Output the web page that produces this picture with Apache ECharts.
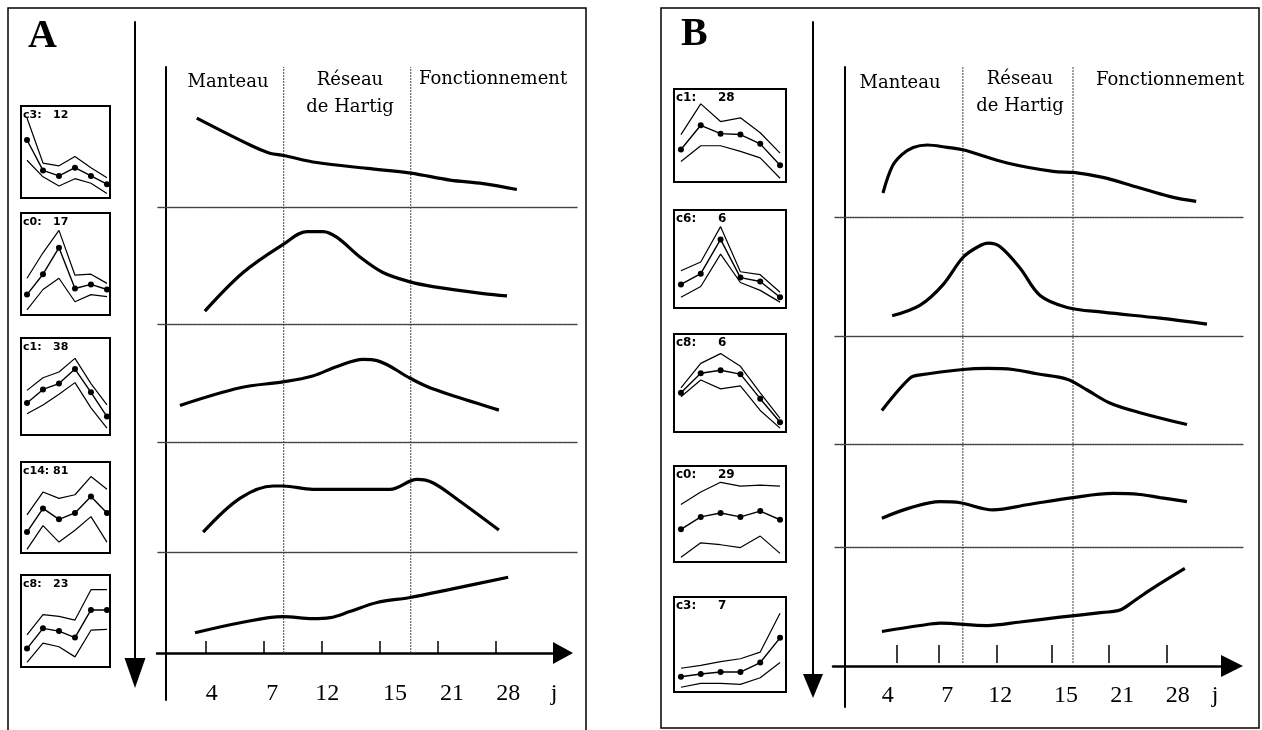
<!DOCTYPE html>
<html><head><meta charset="utf-8">
<script src="https://cdn.jsdelivr.net/npm/echarts@6/dist/echarts.min.js"></script>
<style>html,body{margin:0;padding:0;background:#fff}#c{width:1262px;height:730px}</style>
</head><body><div id="c"></div>
<script>
// ---------------- DATA ----------------
const dayLabels = ['4', '7', '12', '15', '21', '28'];
const unitLabel = 'j';
const phaseLine1 = ['Manteau', 'Réseau', 'Fonctionnement'];
const phaseLine2 = ['', 'de Hartig', ''];

// Panel A : axis positions (ordinal units along the time axis)
const tickPosA = [1, 2, 3, 4, 5, 6];
const labelPosA = [1.10, 2.14, 3.09, 4.26, 5.24, 6.21, 7.0];
const phaseBoundsA = [2.34, 4.53];
// Panel A : smoothed profiles (x = ordinal time, y = relative level 0-100 within its band)
const curveA1 = [[0.84,76],[1.76,53],[2.10,46],[2.34,44],[2.91,38],[3.78,33],[4.53,29],[5.21,23],[5.78,20],[6.36,15]];
const curveA2 = [[0.98,11],[1.64,44],[2.33,68],[2.74,79],[3.02,79],[3.26,74],[3.66,57],[4.05,44],[4.52,36],[4.91,32],[5.78,26],[6.19,24]];
const curveA3 = [[0.55,31],[1.59,46],[2.33,51],[2.84,56],[3.26,64],[3.71,70],[3.95,69],[4.52,54],[4.81,47],[5.21,40],[6.05,27]];
const curveA4 = [[0.95,18],[1.59,49],[2.16,60],[2.33,60],[2.84,57],[4.17,57],[4.64,66],[4.91,63],[5.33,48],[6.05,20]];
const curveA5 = [[0.81,20],[1.59,30],[2.33,36],[2.84,34],[3.14,35],[3.48,41],[3.95,50],[4.52,55],[5.21,63],[6.21,75]];
// Panel A : cluster thumbnails
const thumbNamesA = ['c3:', 'c0:', 'c1:', 'c14:', 'c8:'];
const thumbCountsA = ['12', '17', '38', '81', '23'];
const thumbUpperA = [[87,38,35,45,33,22],[36,61,83,39,40,31],[46,59,65,79,53,31],[42,67,60,64,84,70],[35,57,55,51,84,84]];
const thumbMeanA  = [[63,30,24,33,24,15],[20,40,66,26,30,25],[33,47,53,68,44,19],[23,49,37,44,62,44],[20,42,39,32,62,62]];
const thumbLowerA = [[41,23,13,21,16,5],[5,25,36,13,20,18],[22,31,42,54,28,7],[4,30,12,25,40,12],[5,26,22,11,40,41]];

// Panel B
const tickPosB = [1, 1.78, 2.85, 3.87, 4.93, 6.0];
const labelPosB = [0.83, 1.93, 2.91, 4.13, 5.17, 6.20, 6.89];
const phaseBoundsB = [2.22, 4.26];
const curveB1 = [[0.74,20],[0.91,42],[1.09,52],[1.30,58],[1.56,60],[1.93,58],[2.22,56],[3.04,45],[3.89,38],[4.30,37],[4.81,33],[5.44,25],[6.06,17],[6.54,13]];
const curveB2 = [[0.91,17],[1.43,26],[1.85,43],[2.22,66],[2.50,75],[2.69,78],[2.91,75],[3.28,57],[3.65,34],[4.15,24],[4.81,20],[5.87,15],[6.74,10]];
const curveB3 = [[0.72,31],[1.24,61],[1.43,64],[2.22,69],[2.67,70],[3.15,69],[3.59,65],[4.15,60],[4.52,50],[4.94,38],[5.50,29],[6.37,18]];
const curveB4 = [[0.72,28],[1.24,38],[1.80,44],[2.17,43],[2.78,36],[3.41,41],[4.26,48],[5.00,52],[5.50,51],[5.87,48],[6.37,44]];
const curveB5 = [[0.72,29],[1.43,34],[1.80,36],[2.67,34],[3.28,37],[4.02,41],[4.81,45],[5.13,47],[5.37,54],[5.69,64],[6.33,82]];
const thumbNamesB = ['c1:', 'c6:', 'c8:', 'c0:', 'c3:'];
const thumbCountsB = ['28', '6', '6', '29', '7'];
const thumbUpperB = [[51,84,65,69,53,31],[38,47,83,37,34,16],[45,70,80,67,40,14],[60,73,83,79,80,79],[25,28,32,35,42,83]];
const thumbMeanB  = [[35,61,52,51,41,18],[24,35,70,31,27,11],[40,60,63,59,34,10],[34,47,51,47,53,44],[16,19,21,21,31,57]];
const thumbLowerB = [[22,39,39,33,26,4],[11,22,55,26,18,6],[36,53,44,47,22,4],[5,20,18,15,27,9],[5,9,9,8,15,31]];

// ---------------- BUILD ----------------
const grids = [], xAxes = [], yAxes = [], series = [], graphics = [];
const BLACK = '#000';
const hidden = (min, max) => ({type: 'value', show: false, min: min, max: max});

function addGrid(g, xa, ya) {
  const gi = grids.length;
  grids.push(g);
  const xs = (Array.isArray(xa) ? xa : [xa]).map(a => { xAxes.push(Object.assign({gridIndex: gi}, a)); return xAxes.length - 1; });
  yAxes.push(Object.assign({gridIndex: gi}, ya));
  return {xi: xs[0], xis: xs, yi: yAxes.length - 1};
}
function text(str, x, y, font, align) {
  graphics.push({type: 'text', x: x, y: y, silent: true,
    style: {text: str, font: font, fill: BLACK, align: align || 'left', verticalAlign: 'middle',
            textAlign: align || 'left', textVerticalAlign: 'middle'}});
}
function labelFormatter(positions) {
  return function (v) {
    const i = positions.findIndex(p => Math.abs(p - v) < 1e-6);
    return i >= 0 && i < dayLabels.length ? dayLabels[i] : unitLabel;
  };
}

function buildPanel(P) {
  // frame grid with time axis
  let frame;
  if (!P.tickGap) {
    frame = addGrid({left: P.axisLeft, top: 67, width: P.axisWidth, height: P.axisY - 67},
      {type: 'value', min: P.xmin, max: P.xmax, position: 'bottom',
       axisLine: {show: true, onZero: false, lineStyle: {color: BLACK, width: 2.5}, symbol: ['none', 'triangle'], symbolSize: P.arrowSize},
       axisTick: {show: true, inside: true, length: P.tickLen, customValues: P.tickPos, lineStyle: {color: BLACK, width: 1.5}},
       axisLabel: {show: true, customValues: P.labelPos, margin: P.labelMargin, formatter: labelFormatter(P.labelPos),
                   fontFamily: 'Liberation Serif', fontSize: 24, color: BLACK},
       splitLine: {show: false}},
      hidden(0, 100));
  } else {
    frame = addGrid({left: P.axisLeft, top: 67, width: P.axisWidth, height: P.axisY - P.tickGap - 67},
      [{type: 'value', min: P.xmin, max: P.xmax, position: 'bottom',
        axisLine: {show: false, onZero: false},
        axisTick: {show: true, inside: true, length: P.tickLen, customValues: P.tickPos, lineStyle: {color: BLACK, width: 1.5}},
        axisLabel: {show: false}, splitLine: {show: false}},
       {type: 'value', min: P.xmin, max: P.xmax, position: 'bottom', offset: P.tickGap,
        axisLine: {show: true, onZero: false, lineStyle: {color: BLACK, width: 2.5}, symbol: ['none', 'triangle'], symbolSize: P.arrowSize},
        axisTick: {show: false},
        axisLabel: {show: true, customValues: P.labelPos, margin: P.labelMargin, formatter: labelFormatter(P.labelPos),
                    fontFamily: 'Liberation Serif', fontSize: 24, color: BLACK},
        splitLine: {show: false}}],
      hidden(0, 100));
  }
  P.phaseBounds.forEach(p => series.push({type: 'line', xAxisIndex: frame.xi, yAxisIndex: frame.yi,
    data: [[p, 0], [p, 100]], symbol: 'none', silent: true,
    lineStyle: {color: '#444', width: 1, type: [2, 1]}}));

  // main vertical axis line
  addGrid({left: P.vaxisX, top: 67, width: 10, height: P.vaxisBottom - 67},
    {type: 'value', show: false, min: 0, max: 1},
    {type: 'value', min: 0, max: 1, axisLine: {show: true, lineStyle: {color: BLACK, width: 2}},
     axisTick: {show: false}, axisLabel: {show: false}, splitLine: {show: false}});

  // big downward arrow (cluster order)
  addGrid({left: P.downX, top: 22, width: 10, height: P.downEnd - 22},
    {type: 'value', show: false, min: 0, max: 1},
    {type: 'value', min: 0, max: 1, axisLine: {show: true, lineStyle: {color: BLACK, width: 2}, symbol: ['triangle', 'none'], symbolSize: P.downArrowSize},
     axisTick: {show: false}, axisLabel: {show: false}, splitLine: {show: false}});

  // bands with profiles
  P.curves.forEach((c, i) => {
    const g = addGrid({left: P.bandLeft, top: P.bandTops[i], width: P.bandWidth, height: P.bandBottoms[i] - P.bandTops[i]},
      {type: 'value', min: P.bxmin, max: P.bxmax, position: 'top',
       axisLine: {show: i > 0, onZero: false, lineStyle: {color: '#444', width: 1.3, type: [1.5, 1]}},
       axisTick: {show: false}, axisLabel: {show: false}, splitLine: {show: false}},
      hidden(0, 100));
    series.push({type: 'line', xAxisIndex: g.xi, yAxisIndex: g.yi, data: c, smooth: 0.35,
      symbol: 'none', silent: true, lineStyle: {color: BLACK, width: 3.2}, z: 3});
  });

  // thumbnails
  P.thumbTops.forEach((t, i) => {
    const g = addGrid({left: P.thumbLeft, top: t, width: P.thumbWidth, height: P.thumbHeights[i], show: true,
                       borderColor: BLACK, borderWidth: 2, backgroundColor: 'transparent'},
      hidden(P.txmin, P.txmax), hidden(0, 100));
    const idx = [0, 1, 2, 3, 4, 5];
    const mk = arr => arr.map((v, k) => [idx[k], v]);
    series.push({type: 'line', xAxisIndex: g.xi, yAxisIndex: g.yi, data: mk(P.upper[i]), symbol: 'none', silent: true, lineStyle: {color: BLACK, width: 1.2}});
    series.push({type: 'line', xAxisIndex: g.xi, yAxisIndex: g.yi, data: mk(P.lower[i]), symbol: 'none', silent: true, lineStyle: {color: BLACK, width: 1.2}});
    series.push({type: 'line', xAxisIndex: g.xi, yAxisIndex: g.yi, data: mk(P.mean[i]), symbol: 'circle', symbolSize: 6, silent: true,
      itemStyle: {color: BLACK}, lineStyle: {color: BLACK, width: 1.4}});
    text(P.names[i], P.thumbLeft + 2, t + 9, 'bold ' + P.thumbFont + 'px "DejaVu Sans"');
    text(P.counts[i], P.thumbLeft + P.countDx, t + 9, 'bold ' + P.thumbFont + 'px "DejaVu Sans"');
  });

  // headers
  P.headers.forEach((h, i) => {
    text(phaseLine1[i], h[0], h[1], '18px "DejaVu Serif"', 'center');
    if (phaseLine2[i]) text(phaseLine2[i], h[0], h[1] + 27, '18px "DejaVu Serif"', 'center');
  });
}

buildPanel({
  axisLeft: 157, axisWidth: 406, axisY: 653, xmin: 0.155, xmax: 7.155, arrowSize: [22, 20],
  tickLen: 12, tickPos: tickPosA, labelPos: labelPosA, labelMargin: 29, phaseBounds: phaseBoundsA,
  vaxisX: 166, vaxisBottom: 700, downX: 135, downEnd: 673, downArrowSize: [21, 30],
  bandLeft: 158, bandWidth: 419, bxmin: 0.172, bxmax: 7.397,
  bandTops: [90, 207, 324, 442, 552], bandBottoms: [207, 324, 442, 552, 653],
  curves: [curveA1, curveA2, curveA3, curveA4, curveA5],
  thumbLeft: 21, thumbWidth: 89, thumbTops: [106, 213, 338, 462, 575], thumbHeights: [92, 102, 97, 91, 92],
  txmin: -0.375, txmax: 5.19, thumbFont: 11, countDx: 32,
  names: thumbNamesA, counts: thumbCountsA, upper: thumbUpperA, mean: thumbMeanA, lower: thumbLowerA,
  headers: [[228, 82], [350, 80], [493, 79]]
});
buildPanel({
  axisLeft: 833, axisWidth: 399, axisY: 666, tickGap: 3, xmin: -0.185, xmax: 7.204, arrowSize: [22, 22],
  tickLen: 18, tickPos: tickPosB, labelPos: labelPosB, labelMargin: 18, phaseBounds: phaseBoundsB,
  vaxisX: 845, vaxisBottom: 707, downX: 813, downEnd: 686, downArrowSize: [20, 24],
  bandLeft: 835, bandWidth: 408, bxmin: -0.148, bxmax: 7.407,
  bandTops: [97, 217, 336, 444, 547], bandBottoms: [217, 336, 444, 547, 666],
  curves: [curveB1, curveB2, curveB3, curveB4, curveB5],
  thumbLeft: 674, thumbWidth: 112, thumbTops: [89, 210, 334, 466, 597], thumbHeights: [93, 98, 98, 96, 95],
  txmin: -0.35, txmax: 5.3, thumbFont: 12, countDx: 44,
  names: thumbNamesB, counts: thumbCountsB, upper: thumbUpperB, mean: thumbMeanB, lower: thumbLowerB,
  headers: [[900, 83], [1020, 79], [1170, 80]]
});

// panel frames and letters
graphics.push({type: 'rect', silent: true, shape: {x: 8, y: 8, width: 578, height: 740}, style: {fill: 'none', stroke: BLACK, lineWidth: 1.5}});
graphics.push({type: 'rect', silent: true, shape: {x: 661, y: 8, width: 598, height: 720}, style: {fill: 'none', stroke: BLACK, lineWidth: 1.5}});
text('A', 28, 37, 'bold 40px "Liberation Serif"');
text('B', 681, 35, 'bold 40px "Liberation Serif"');

const chart = echarts.init(document.getElementById('c'), null, {renderer: 'canvas'});
chart.setOption({
  animation: false,
  backgroundColor: '#fff',
  grid: grids, xAxis: xAxes, yAxis: yAxes, series: series, graphic: graphics
});
</script></body></html>
